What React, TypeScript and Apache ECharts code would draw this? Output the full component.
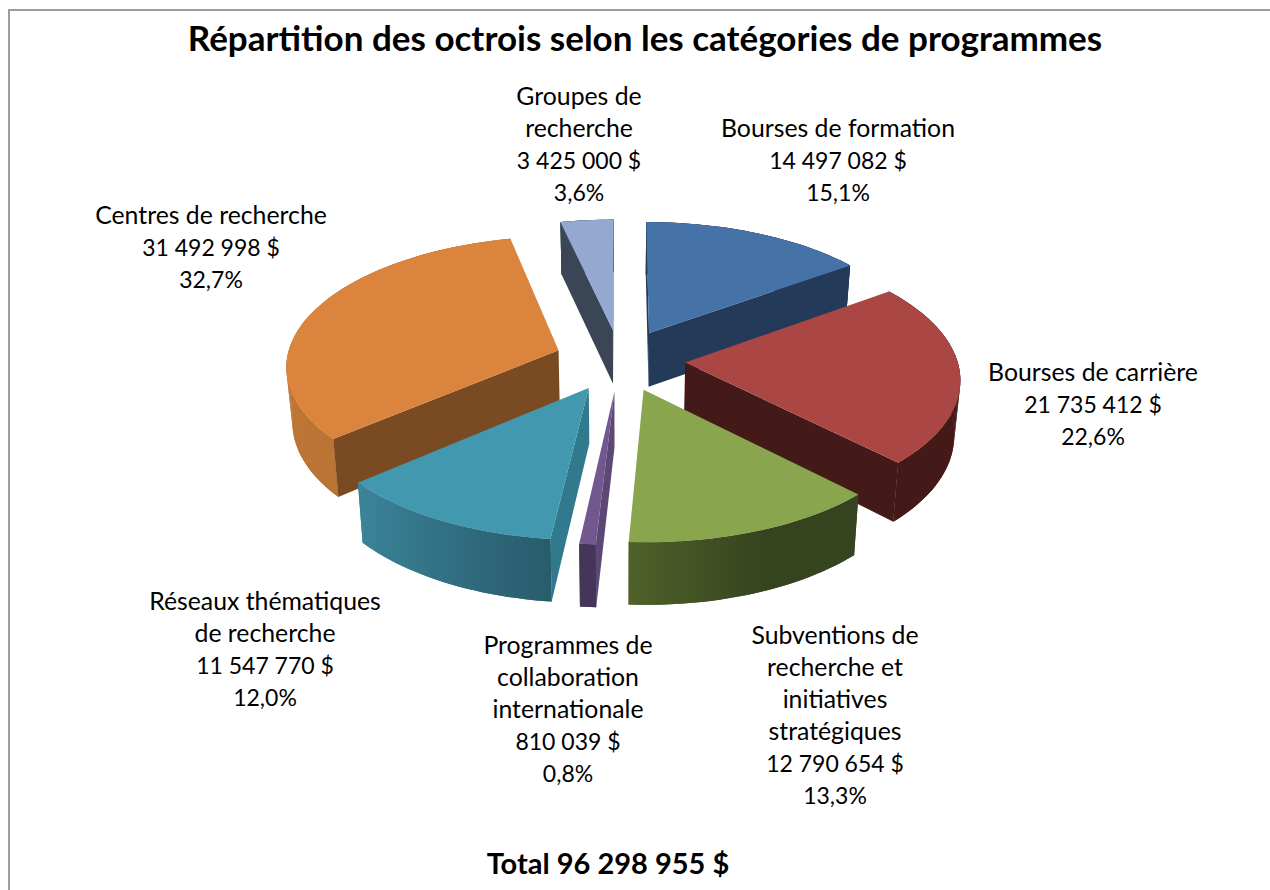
import React, { useEffect, useRef } from "react";
import * as echarts from "echarts";

const titleText = "Répartition des octrois selon les catégories de programmes";
const categories = [
  "Bourses de formation",
  "Bourses de carrière",
  "Subventions de\nrecherche et\ninitiatives\nstratégiques",
  "Programmes de\ncollaboration\ninternationale",
  "Réseaux thématiques\nde recherche",
  "Centres de recherche",
  "Groupes de\nrecherche",
];
const amounts = [14497082, 21735412, 12790654, 810039, 11547770, 31492998, 3425000];

// Layout and styling, kept apart from the data
const labelAnchors: [number, number][] = [
  [838, 111], [1093, 355], [835, 618], [568, 628], [265, 584], [211, 198], [579, 79],
];
const paintOrder = [1, 3, 6, 5, 4, 2, 0];
const topColors = ["#4573a7", "#aa4644", "#89a54e", "#71588f", "#4198af", "#db843d", "#93a9cf"];
const radialColors = ["#243a59", "#441a19", "#36431f", "#5c4775", "#317a8e", "#7a4b22", "#3a4656"];
const bandStops: [string, string, string][] = [
  ["#243a59", "#243a59", "#243a59"],
  ["#441a19", "#441a19", "#441a19"],
  ["#4f6129", "#36431f", "#36431f"],
  ["#45355a", "#45355a", "#45355a"],
  ["#3a8499", "#30697c", "#275c6c"],
  ["#bc7535", "#b87233", "#b87233"],
  ["#3a4656", "#3a4656", "#3a4656"],
];

const CX = 620, CY = 360, AX = 272, AY = 128.8, PERSP = 0.11, EXPLODE = 0.24;
const LINE_H = 32;

const total = amounts.reduce((a, b) => a + b, 0);
const group3 = (n: number) => String(n).replace(/\B(?=(\d{3})+(?!\d))/g, " ");
const pct = (n: number) => ((n / total) * 100).toFixed(1).replace(".", ",") + "%";

const starts: number[] = [];
amounts.reduce((acc, v, i) => {
  starts[i] = acc;
  return acc + v;
}, 0);

type P = [number, number];
const projectTop = (X: number, Y: number): P => {
  const d = 1 - PERSP * Y;
  return [CX + (AX * X) / d, CY + (AY * Y) / d];
};
const projectBottom = (X: number, Y: number): P => {
  const [x, y] = projectTop(X, Y);
  const depth = Y >= 0 ? 54 + 7 * Y : 54 + 1.5 * Y;
  return [CX + (x - CX) * 0.982, y + depth];
};
const cross = (a: P, b: P) => a[0] * b[1] - a[1] * b[0];

function renderSlice(params: any, api: any) {
  const i = params.dataIndex;
  const value = api.value(0);
  const t0 = (starts[i] / total) * Math.PI * 2;
  const t1 = t0 + (value / total) * Math.PI * 2;
  const mid = (t0 + t1) / 2;
  const ox = Math.sin(mid) * EXPLODE;
  const oy = -Math.cos(mid) * EXPLODE;

  const rim: [number, number][] = [];
  const n = Math.max(3, Math.ceil((t1 - t0) / 0.03));
  for (let k = 0; k <= n; k++) {
    const t = t0 + ((t1 - t0) * k) / n;
    rim.push([ox + Math.sin(t), oy - Math.cos(t)]);
  }
  const topRim = rim.map(([x, y]) => projectTop(x, y));
  const botRim = rim.map(([x, y]) => projectBottom(x, y));
  const apexT = projectTop(ox, oy);
  const apexB = projectBottom(ox, oy);
  const midT = topRim[Math.floor(n / 2)];

  const base = paintOrder[i] * 10;
  const children: any[] = [];
  const [s0, s1, s2] = bandStops[i];
  const xs = [...topRim, ...botRim].map((p) => p[0]);
  const bandFill = new echarts.graphic.LinearGradient(
    Math.min(...xs), 0, Math.max(...xs), 0,
    [
      { offset: 0, color: s0 },
      { offset: 0.6, color: s1 },
      { offset: 1, color: s2 },
    ],
    true
  );

  children.push({
    type: "polygon",
    z2: base,
    shape: { points: [...topRim, ...botRim.slice().reverse()] },
    style: { fill: bandFill },
  });
  for (let k = 0; k < n; k++) {
    children.push({
      type: "polygon",
      z2: base,
      shape: { points: [topRim[k], topRim[k + 1], botRim[k + 1], botRim[k]] },
      style: { fill: bandFill },
    });
  }

  const radial = (edgeIndex: number, offset: number) => {
    const e: P = [topRim[edgeIndex][0] - apexT[0], topRim[edgeIndex][1] - apexT[1]];
    const m: P = [midT[0] - apexT[0], midT[1] - apexT[1]];
    if (cross(e, [0, 1]) * cross(e, m) < 0) {
      children.push({
        type: "polygon",
        z2: base + offset,
        shape: { points: [apexT, topRim[edgeIndex], botRim[edgeIndex], apexB] },
        style: { fill: radialColors[i] },
      });
    }
  };
  radial(0, 1);
  radial(n, 2);

  children.push({
    type: "polygon",
    z2: base + 3,
    shape: { points: [apexT, ...topRim] },
    style: { fill: topColors[i] },
  });

  return { type: "group", children };
}

export default function App() {
  const ref = useRef<HTMLDivElement>(null);
  useEffect(() => {
    document.body.style.margin = "0";
    const chart = echarts.init(ref.current!, undefined, { renderer: "svg" });
    const textBase = { fontFamily: "Lato", fill: "#000", lineHeight: LINE_H, align: "center", verticalAlign: "top" };
    chart.setOption({
      animation: false,
      backgroundColor: "#fff",
      title: [
        {
          text: titleText,
          left: 640,
          top: 14,
          textAlign: "center",
          textStyle: { fontFamily: "Lato", fontWeight: "bold", fontSize: 35, color: "#000" },
        },
        {
          text: `Total ${group3(total)} $`,
          left: 603,
          top: 843,
          textAlign: "center",
          textStyle: { fontFamily: "Lato", fontWeight: "bold", fontSize: 29, color: "#000" },
        },
      ],
      graphic: [
        {
          type: "rect",
          silent: true,
          shape: { x: 9, y: 10, width: 1400, height: 1000 },
          style: { fill: "none", stroke: "#9c9c9c", lineWidth: 2 },
        },
        ...categories.flatMap((name, i) => [
          {
            type: "text",
            x: labelAnchors[i][0],
            y: labelAnchors[i][1],
            style: { ...textBase, fontSize: 24.8, text: name },
          },
          {
            type: "text",
            x: labelAnchors[i][0],
            y: labelAnchors[i][1] + 1 + name.split("\n").length * LINE_H,
            style: { ...textBase, fontSize: 23, text: `${group3(amounts[i])} $\n${pct(amounts[i])}` },
          },
        ]),
      ],
      series: [
        {
          type: "custom",
          coordinateSystem: "none",
          renderItem: renderSlice,
          data: amounts.map((v, i) => ({ name: categories[i], value: [v] })),
          silent: true,
        },
      ],
    });
    return () => chart.dispose();
  }, []);
  return <div ref={ref} style={{ width: 1270, height: 890 }} />;
}
